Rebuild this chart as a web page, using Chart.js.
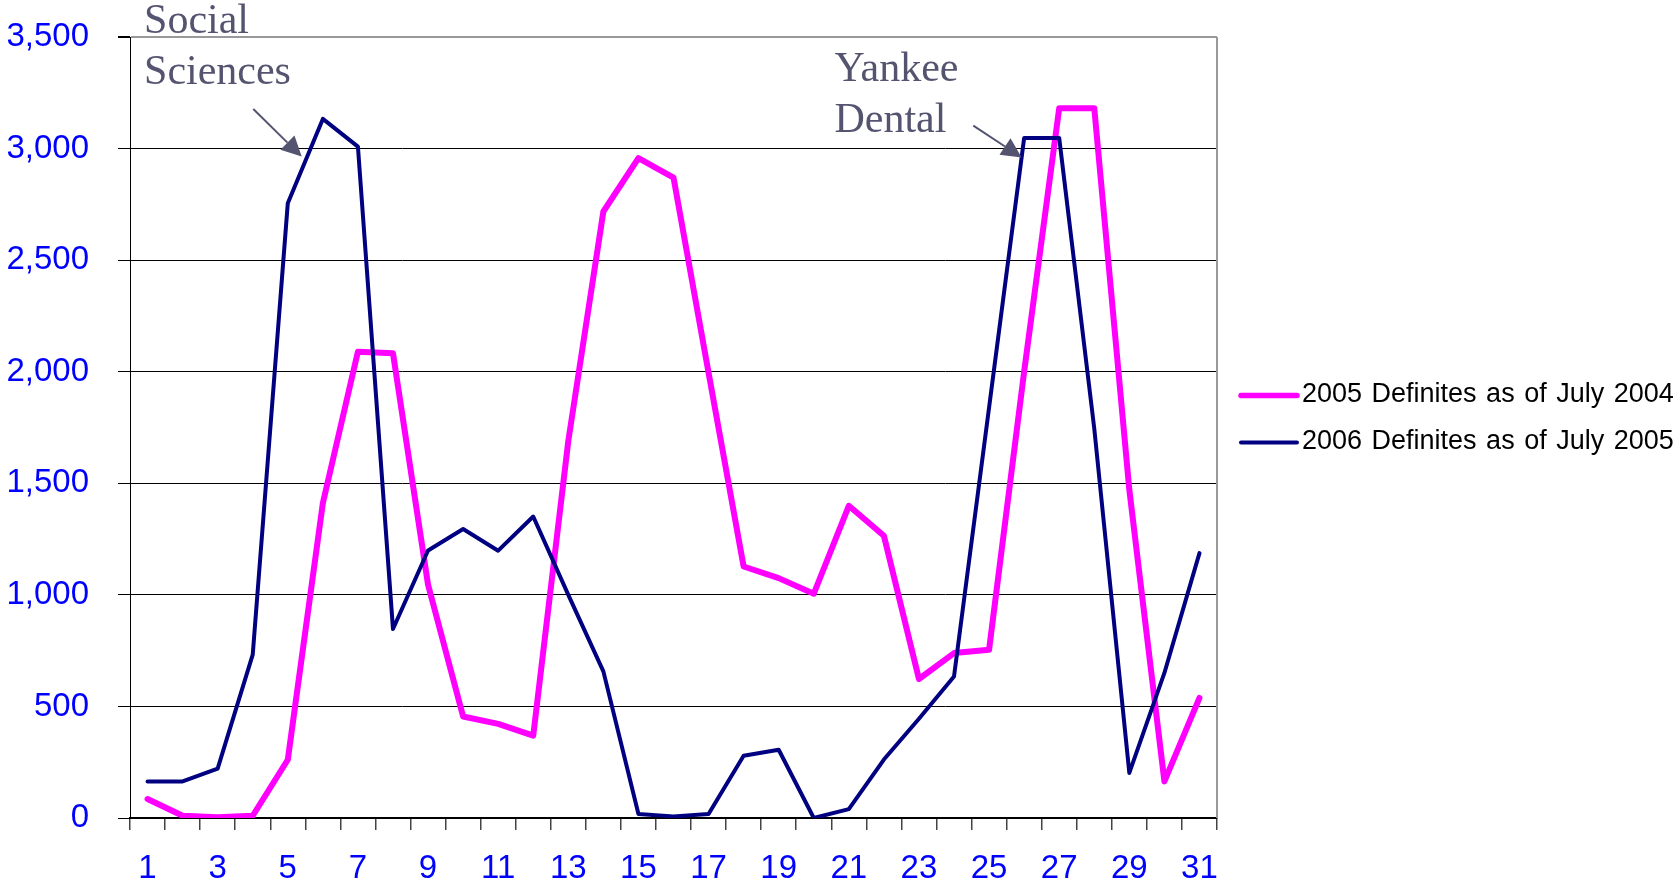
<!DOCTYPE html>
<html><head><meta charset="utf-8">
<script src="https://cdn.jsdelivr.net/npm/chart.js@4/dist/chart.umd.min.js"></script>
<style>html,body{margin:0;padding:0;background:#fff;}canvas{display:block;}</style>
</head><body>
<canvas id="c" width="1677" height="886"></canvas>
<script>
const categories = ['1','2','3','4','5','6','7','8','9','10','11','12','13','14','15','16','17','18','19','20','21','22','23','24','25','26','27','28','29','30','31'];
const series2005 = [85, 10, 3, 10, 261, 1411, 2090, 2083, 1045, 455, 422, 369, 1690, 2718, 2957, 2870, 1995, 1127, 1075, 1005, 1399, 1265, 623, 739, 754, 2000, 3181, 3181, 1470, 164, 538];
const series2006 = [164, 164, 221, 732, 2755, 3133, 3009, 847, 1199, 1295, 1198, 1351, 1000, 657, 18, 7, 18, 279, 306, 0, 40, 262, 445, 634, 1840, 3047, 3047, 1745, 202, 650, 1187];
const seriesLabels = ['2005 Definites as of July 2004', '2006 Definites as of July 2005'];
const yTickMin = 0, yTickMax = 3500, yTickStep = 500;
// callouts anchored in data space: [category index, value]
const calloutTexts = [['Social', 'Sciences'], ['Yankee', 'Dental']];
const calloutTextAt = [[-0.10, 3517], [19.59, 3303]];
const calloutFrom = [[3.016, 3177], [23.55, 3103]];
const calloutTo = [[4.397, 2964], [24.93, 2960]];

const PINK = '#FF00FF', NAVY = '#000080', NOTE = '#545470';
const SANS = "'Liberation Sans', Arial, sans-serif";
const SERIF = "'Liberation Serif', 'Times New Roman', serif";

const extras = {
  id: 'extras',
  afterDraw(chart) {
    const ctx = chart.ctx, ca = chart.chartArea;
    const xs = chart.scales.x, ys = chart.scales.y;
    ctx.save();
    ctx.strokeStyle = '#999';
    ctx.lineWidth = 2;
    ctx.beginPath();
    ctx.moveTo(ca.right, ca.top);
    ctx.lineTo(ca.right, ca.bottom);
    ctx.stroke();
    const P = (p) => [xs.getPixelForValue(p[0]), ys.getPixelForValue(p[1])];
    for (let i = 0; i < calloutTexts.length; i++) {
      const [tx, ty] = P(calloutTextAt[i]);
      ctx.fillStyle = NOTE;
      ctx.font = '42px ' + SERIF;
      ctx.textAlign = 'left';
      ctx.textBaseline = 'alphabetic';
      calloutTexts[i].forEach((t, k) => ctx.fillText(t, tx, ty + k * 50.6));
      const [x0, y0] = P(calloutFrom[i]);
      const [x1, y1] = P(calloutTo[i]);
      const ang = Math.atan2(y1 - y0, x1 - x0);
      const hl = 20, hw = 10;
      const bx = x1 - hl * Math.cos(ang), by = y1 - hl * Math.sin(ang);
      ctx.strokeStyle = NOTE;
      ctx.lineWidth = 2;
      ctx.beginPath();
      ctx.moveTo(x0, y0);
      ctx.lineTo(bx, by);
      ctx.stroke();
      ctx.beginPath();
      ctx.moveTo(x1, y1);
      ctx.lineTo(bx + hw * Math.sin(ang), by - hw * Math.cos(ang));
      ctx.lineTo(bx - hw * Math.sin(ang), by + hw * Math.cos(ang));
      ctx.closePath();
      ctx.fillStyle = NOTE;
      ctx.fill();
    }
    const lx0 = ca.right + 24, lx1 = ca.right + 80, textX = ca.right + 85;
    const rows = [395.5, 442.5];
    const ds = chart.data.datasets;
    ctx.font = '27px ' + SANS;
    try { ctx.wordSpacing = '2px'; } catch (e) {}
    ctx.textBaseline = 'middle';
    ctx.textAlign = 'left';
    ds.forEach((d, i) => {
      ctx.strokeStyle = d.borderColor;
      ctx.lineWidth = i === 0 ? 5.5 : 4;
      ctx.lineCap = 'round';
      ctx.beginPath();
      ctx.moveTo(lx0, rows[i]);
      ctx.lineTo(lx1, rows[i]);
      ctx.stroke();
      ctx.fillStyle = '#000';
      ctx.fillText(d.label, textX, rows[i] - 1);
    });
    ctx.restore();
  }
};

new Chart(document.getElementById('c'), {
  type: 'line',
  data: {
    labels: categories,
    datasets: [
      { label: seriesLabels[0], data: series2005, borderColor: PINK, backgroundColor: PINK, borderWidth: 6, pointRadius: 0, tension: 0, borderJoinStyle: 'round', borderCapStyle: 'round', order: 1 },
      { label: seriesLabels[1], data: series2006, borderColor: NAVY, backgroundColor: NAVY, borderWidth: 4, pointRadius: 0, tension: 0, borderJoinStyle: 'round', borderCapStyle: 'round', order: 0 }
    ]
  },
  options: {
    responsive: false,
    animation: false,
    layout: { padding: { top: 37, right: 460, left: 0, bottom: 0 } },
    plugins: { legend: { display: false }, tooltip: { enabled: false } },
    scales: {
      x: {
        type: 'category',
        offset: true,
        grid: { offset: true, drawOnChartArea: false, drawTicks: true, tickLength: 12, color: '#444', lineWidth: 1.5 },
        border: { color: '#000', width: 2 },
        ticks: {
          autoSkip: false, maxRotation: 0, minRotation: 0, padding: 19,
          color: '#0000FF', font: { family: SANS, size: 33 },
          callback: (v, i) => (i % 2 === 0 ? categories[i] : '')
        },
        afterFit: (s) => { s.height = 68; s.paddingLeft = 0; s.paddingRight = 0; }
      },
      y: {
        min: yTickMin, max: yTickMax,
        grid: {
          color: (c) => (c.tick && c.tick.value === yTickMax ? '#999' : '#000'),
          lineWidth: (c) => (c.tick && c.tick.value === yTickMax ? 2 : 1),
          tickColor: '#000', tickLength: 12, drawTicks: true
        },
        border: { color: '#000', width: 1 },
        ticks: {
          stepSize: yTickStep, padding: 29,
          color: '#0000FF', font: { family: SANS, size: 33 },
          callback: (v) => Number(v).toLocaleString('en-US')
        },
        afterFit: (s) => { s.width = 130; s.paddingTop = 0; s.paddingBottom = 0; }
      }
    }
  },
  plugins: [extras]
});
</script>
</body></html>
